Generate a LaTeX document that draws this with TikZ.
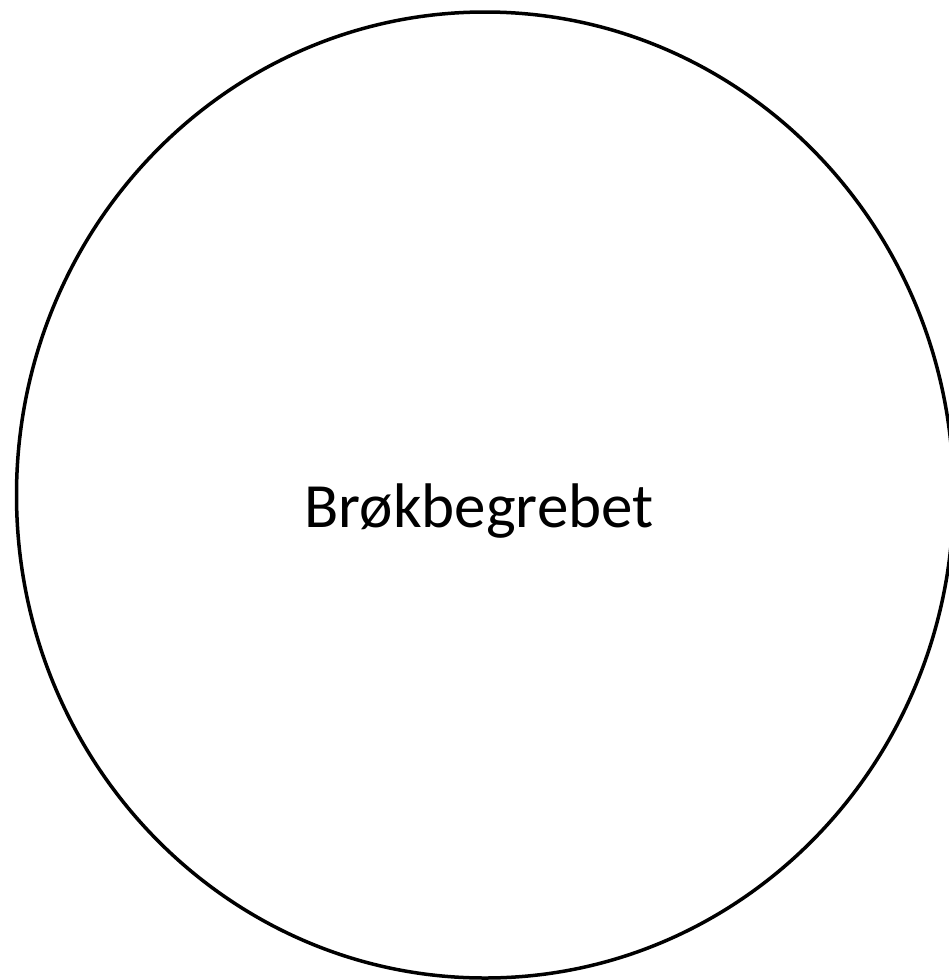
\documentclass[tikz,border=0pt]{standalone}
\usepackage{fontspec}
\setmainfont{Carlito}
\usepackage{tikz}
\usetikzlibrary{shapes.geometric}
\definecolor{bbline}{RGB}{0,0,0}
\tikzset{
  concept/.style={draw=bbline, ellipse, line width=3.5pt, inner sep=0pt},
  conceptlabel/.style={font=\fontsize{63}{76}\selectfont, text=black}
}

\begin{document}
\begin{tikzpicture}[x=1pt,y=-1pt]
        \useasboundingbox (0,0) rectangle (948,980);
        \node[concept, minimum width=937pt, minimum height=966pt] (brok) at (485,495) {};
        \node[conceptlabel, anchor=base] (brokname) at (479,527) {Brøkbegrebet};
      \end{tikzpicture}
\end{document}
